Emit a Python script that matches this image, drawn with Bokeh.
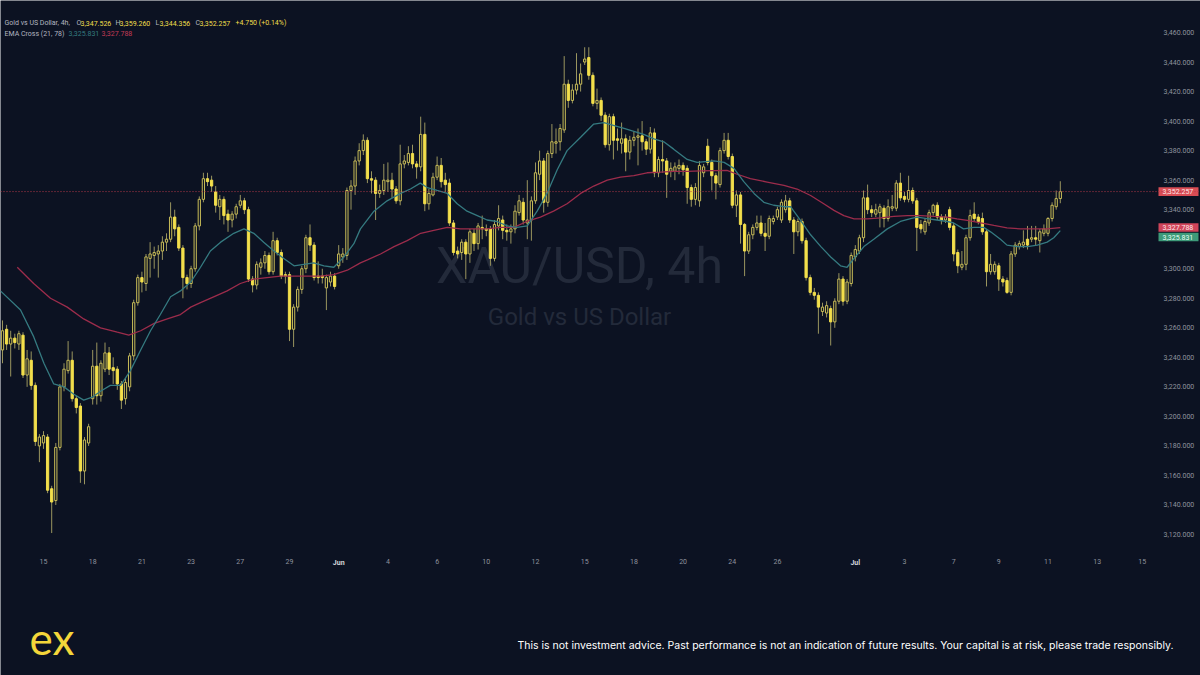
from bokeh.plotting import figure
from bokeh.models import Range1d, FixedTicker, NumeralTickFormatter, Span, Label, LinearAxis
from bokeh.embed import file_html
from bokeh.resources import INLINE

# ---------------- data (XAU/USD, 4h bars) ----------------
opens = [
    3245, 3259, 3249, 3253, 3249, 3255, 3228, 3238, 3221, 3180,
    3182, 3186, 3151, 3143, 3179, 3220, 3231, 3238, 3212, 3207,
    3163, 3182, 3212, 3234, 3214, 3232, 3243, 3233, 3232, 3222,
    3212, 3220, 3241, 3277, 3294, 3290, 3307, 3309, 3310, 3312,
    3318, 3320, 3335, 3328, 3314, 3294, 3290, 3300, 3329, 3347,
    3361, 3360, 3352, 3342, 3347, 3337, 3333, 3337, 3343, 3346,
    3340, 3293, 3289, 3301, 3304, 3309, 3298, 3319, 3311, 3296,
    3296, 3259, 3274, 3286, 3300, 3321, 3316, 3295, 3295, 3287,
    3291, 3295, 3302, 3308, 3309, 3353, 3356, 3373, 3380, 3387,
    3361, 3360, 3351, 3353, 3359, 3360, 3354, 3346, 3371, 3372,
    3378, 3371, 3369, 3391, 3344, 3350, 3362, 3370, 3360, 3358,
    3331, 3312, 3311, 3318, 3310, 3324, 3317, 3328, 3327, 3327,
    3307, 3329, 3333, 3326, 3325, 3327, 3338, 3345, 3331, 3333,
    3346, 3364, 3373, 3345, 3378, 3385, 3386, 3394, 3425, 3414,
    3421, 3425, 3440, 3443, 3431, 3412, 3414, 3404, 3384, 3403,
    3388, 3385, 3388, 3379, 3387, 3389, 3390, 3386, 3381, 3392,
    3365, 3374, 3373, 3366, 3366, 3368, 3370, 3368, 3355, 3347,
    3346, 3365, 3383, 3372, 3363, 3357, 3380, 3387, 3376, 3343,
    3350, 3330, 3312, 3323, 3328, 3331, 3324, 3322, 3332, 3335,
    3333, 3340, 3346, 3333, 3325, 3332, 3319, 3294, 3284, 3282,
    3271, 3270, 3273, 3264, 3278, 3293, 3278, 3290, 3308, 3312,
    3321, 3348, 3340, 3337, 3338, 3341, 3334, 3341, 3341, 3358,
    3349, 3347, 3353, 3346, 3330, 3325, 3331, 3338, 3343, 3335,
    3333, 3340, 3329, 3311, 3301, 3303, 3321, 3337, 3335, 3334,
    3325, 3298, 3298, 3302, 3293, 3292, 3284, 3310, 3315, 3316,
    3320, 3320, 3321, 3319, 3324, 3324, 3334, 3342, 3347.526,
]
highs = [
    3265, 3262, 3258, 3256, 3258, 3257, 3245, 3244, 3223, 3188,
    3190, 3188, 3153, 3182, 3222, 3236, 3251, 3244, 3214, 3209,
    3186, 3195, 3245, 3250, 3238, 3250, 3247, 3240, 3234, 3224,
    3226, 3243, 3279, 3296, 3298, 3310, 3318, 3315, 3316, 3322,
    3324, 3345, 3340, 3330, 3316, 3296, 3302, 3331, 3349, 3365,
    3365, 3363, 3356, 3350, 3349, 3340, 3339, 3344, 3350, 3348,
    3342, 3295, 3305, 3307, 3312, 3311, 3325, 3321, 3313, 3298,
    3298, 3276, 3288, 3302, 3323, 3330, 3318, 3305, 3300, 3296,
    3298, 3297, 3316, 3314, 3355, 3360, 3376, 3385, 3391, 3389,
    3366, 3362, 3357, 3371, 3372, 3365, 3356, 3384, 3377, 3383,
    3384, 3373, 3403, 3399, 3354, 3365, 3376, 3375, 3365, 3361,
    3333, 3315, 3320, 3320, 3327, 3327, 3331, 3336, 3330, 3329,
    3333, 3343, 3336, 3330, 3330, 3343, 3350, 3348, 3360, 3349,
    3372, 3380, 3375, 3380, 3398, 3395, 3398, 3444, 3428, 3425,
    3446, 3439, 3450, 3450, 3433, 3422, 3416, 3406, 3405, 3405,
    3395, 3399, 3391, 3390, 3393, 3395, 3400, 3388, 3396, 3395,
    3376, 3387, 3375, 3372, 3372, 3374, 3372, 3370, 3357, 3358,
    3373, 3371, 3388, 3374, 3365, 3382, 3392, 3392, 3378, 3353,
    3352, 3331, 3325, 3330, 3336, 3336, 3331, 3336, 3336, 3342,
    3347, 3350, 3348, 3335, 3334, 3334, 3321, 3296, 3287, 3284,
    3277, 3278, 3275, 3280, 3297, 3295, 3293, 3311, 3316, 3323,
    3353, 3357, 3343, 3344, 3344, 3343, 3347, 3350, 3360, 3365,
    3352, 3363, 3355, 3348, 3333, 3334, 3340, 3344, 3345, 3337,
    3337, 3342, 3331, 3313, 3312, 3323, 3340, 3345, 3337, 3338,
    3327, 3310, 3305, 3304, 3295, 3294, 3312, 3318, 3319, 3326,
    3329, 3329, 3329, 3327, 3330, 3335, 3345, 3353, 3359.260,
]
lows = [
    3236, 3245, 3227, 3246, 3245, 3226, 3220, 3218, 3180, 3169,
    3178, 3148, 3121, 3140, 3177, 3217, 3229, 3210, 3202, 3155,
    3154, 3180, 3208, 3208, 3210, 3230, 3228, 3222, 3218, 3205,
    3208, 3217, 3238, 3275, 3284, 3285, 3294, 3300, 3294, 3306,
    3312, 3318, 3322, 3312, 3280, 3286, 3287, 3298, 3326, 3345,
    3356, 3352, 3338, 3333, 3330, 3325, 3328, 3334, 3341, 3337,
    3291, 3284, 3286, 3296, 3300, 3296, 3296, 3309, 3293, 3290,
    3251, 3247, 3271, 3283, 3297, 3312, 3292, 3290, 3290, 3272,
    3288, 3286, 3300, 3304, 3306, 3340, 3350, 3370, 3377, 3358,
    3351, 3333, 3348, 3350, 3352, 3348, 3344, 3343, 3368, 3370,
    3368, 3361, 3366, 3339, 3340, 3349, 3360, 3355, 3352, 3329,
    3309, 3307, 3306, 3293, 3304, 3312, 3313, 3320, 3322, 3302,
    3305, 3326, 3320, 3319, 3317, 3324, 3336, 3330, 3320, 3319,
    3344, 3360, 3338, 3342, 3375, 3378, 3380, 3392, 3409, 3412,
    3418, 3420, 3438, 3428, 3410, 3408, 3400, 3382, 3380, 3374,
    3380, 3378, 3366, 3374, 3383, 3370, 3380, 3377, 3378, 3362,
    3362, 3365, 3348, 3362, 3360, 3364, 3363, 3344, 3342, 3343,
    3342, 3362, 3370, 3353, 3347, 3355, 3378, 3374, 3341, 3335,
    3317, 3295, 3310, 3320, 3326, 3322, 3312, 3320, 3330, 3333,
    3331, 3338, 3331, 3310, 3322, 3317, 3292, 3282, 3279, 3256,
    3268, 3267, 3248, 3260, 3276, 3275, 3276, 3288, 3305, 3310,
    3318, 3337, 3335, 3335, 3328, 3328, 3332, 3339, 3339, 3346,
    3345, 3345, 3344, 3312, 3324, 3323, 3329, 3336, 3333, 3330,
    3331, 3326, 3305, 3297, 3299, 3299, 3319, 3332, 3330, 3323,
    3288, 3296, 3296, 3285, 3288, 3283, 3282, 3308, 3313, 3314,
    3313, 3318, 3316, 3311, 3322, 3322, 3332, 3340, 3344.356,
]
closes = [
    3258, 3249, 3253, 3250, 3256, 3228, 3239, 3221, 3183, 3186,
    3187, 3150, 3142, 3179, 3220, 3232, 3238, 3212, 3206, 3163,
    3184, 3193, 3234, 3214, 3236, 3243, 3232, 3231, 3222, 3211,
    3223, 3241, 3277, 3294, 3291, 3308, 3310, 3311, 3312, 3318,
    3320, 3335, 3327, 3314, 3294, 3290, 3300, 3329, 3347, 3361,
    3359, 3356, 3343, 3347, 3336, 3333, 3337, 3342, 3346, 3340,
    3293, 3289, 3303, 3304, 3309, 3298, 3319, 3311, 3295, 3295,
    3259, 3274, 3286, 3300, 3321, 3316, 3294, 3294, 3294, 3294,
    3295, 3288, 3310, 3310, 3353, 3356, 3373, 3380, 3387, 3361,
    3360, 3351, 3353, 3360, 3360, 3354, 3346, 3371, 3373, 3378,
    3371, 3369, 3391, 3344, 3351, 3362, 3370, 3359, 3357, 3331,
    3311, 3310, 3318, 3310, 3325, 3317, 3329, 3327, 3326, 3307,
    3330, 3334, 3326, 3325, 3327, 3339, 3346, 3333, 3333, 3346,
    3365, 3373, 3345, 3378, 3386, 3386, 3395, 3425, 3414, 3421,
    3425, 3432, 3442, 3431, 3412, 3414, 3404, 3384, 3403, 3387,
    3387, 3388, 3379, 3387, 3389, 3390, 3386, 3381, 3392, 3365,
    3374, 3373, 3364, 3368, 3369, 3370, 3367, 3355, 3347, 3355,
    3370, 3369, 3372, 3363, 3358, 3380, 3387, 3376, 3343, 3350,
    3330, 3312, 3323, 3328, 3331, 3324, 3322, 3334, 3334, 3340,
    3345, 3346, 3333, 3325, 3332, 3319, 3294, 3284, 3282, 3274,
    3274, 3275, 3264, 3278, 3293, 3278, 3291, 3309, 3313, 3321,
    3348, 3340, 3338, 3340, 3342, 3334, 3342, 3342, 3358, 3348,
    3347, 3353, 3346, 3328, 3327, 3332, 3338, 3343, 3335, 3333,
    3335, 3328, 3310, 3302, 3303, 3321, 3336, 3334, 3332, 3325,
    3298, 3303, 3303, 3293, 3291, 3284, 3310, 3316, 3317, 3318,
    3316, 3321, 3320, 3325, 3327, 3334, 3343, 3347.5, 3352.257,
]

# EMA Cross (21, 78): bar position -> value
ema21_x = [-0.5, 4.4, 7.6, 10.1, 12.5, 15, 17.4, 19.8, 21.9, 23.9, 26.3, 28.8, 31.2, 33.7,
           36.1, 38.5, 41, 43.4, 45.9, 48.3, 50.7, 53.2, 56.4, 58.9, 61.3, 63.7, 66.2, 68.6,
           71.1, 73.5, 75.9, 78.4, 80.8, 83.3, 85.7, 87.3, 90.6, 93.8, 97.1, 99.5, 101.9,
           103.6, 106, 108.5, 110.9, 113.3, 115.8, 118.2, 120.6, 123.1, 125.5, 128, 130.4,
           132.8, 135.3, 137.7, 141, 144.2, 146.7, 149.2, 151.6, 154, 156.4, 158.9, 161.3,
           163.7, 167, 169.4, 173.5, 176, 178.4, 180.8, 183.3, 185.7, 188.1, 190.6, 192.2,
           194.6, 197.1, 199.6, 202, 204.4, 206, 207.7, 210.1, 212.5, 215.8, 219, 221.5,
           223.1, 225.5, 227.9, 230.4, 232, 234.4, 236.9, 239.3, 241, 243.4, 245, 247.5,
           250, 252.4, 254.8, 256.4, 258]
ema21_v = [3285, 3272, 3254, 3236, 3222, 3220, 3215, 3211, 3213, 3217, 3221, 3221, 3231, 3245,
           3258, 3269, 3281, 3285, 3291, 3301, 3312, 3318, 3324, 3327, 3324, 3318, 3312, 3307,
           3302, 3303, 3304, 3302, 3301, 3308, 3317, 3327, 3339, 3346, 3351, 3354, 3358,
           3355, 3353, 3351, 3344, 3339, 3336, 3333, 3332, 3329, 3328, 3329, 3339,
           3351, 3367, 3380, 3389, 3398, 3399, 3397, 3395, 3393, 3391, 3388, 3386,
           3381, 3374, 3372, 3373, 3372, 3368, 3359, 3351, 3345, 3343, 3342, 3342,
           3333, 3323, 3315, 3308, 3302, 3301, 3307, 3315, 3320, 3327, 3332, 3334,
           3335, 3334, 3333, 3332, 3331, 3327, 3328, 3328, 3325, 3320, 3316, 3315,
           3315, 3316, 3318, 3321, 3325.831]
ema78_x = [3.6, 7.6, 11.7, 15.8, 19.8, 23.9, 28, 30.8, 33.7, 37, 40.2, 43.4, 45.9, 48.3, 51.5,
           54.8, 58, 61.3, 64.5, 67.8, 71.1, 74.3, 77.6, 80.8, 84.1, 87.3, 89, 92.2, 95.5,
           98.7, 102, 105.2, 108.5, 111.7, 114.9, 118.2, 121.4, 124.7, 127.9, 131.2, 134.4,
           137.7, 141, 144.2, 147.5, 150.7, 154, 157.2, 160.5, 163.7, 167, 170.3, 176.7,
           179.2, 182.4, 186.5, 190.6, 193.8, 197.1, 200.3, 202.8, 205.2, 207.7, 210.9,
           214.2, 217.4, 220.7, 223.9, 227.2, 230.4, 232.8, 235.3, 238.6, 241.8, 245,
           248.3, 251.5, 254.8, 258]
ema78_v = [3301, 3290, 3280, 3274, 3266, 3260, 3257, 3255, 3258, 3263, 3266, 3269, 3274, 3277,
           3281, 3285, 3290, 3293, 3294, 3295, 3295, 3295, 3295, 3296, 3299, 3304, 3306, 3310,
           3315, 3319, 3324, 3326, 3328, 3327, 3327, 3327, 3328, 3328, 3332, 3335, 3339,
           3344, 3351, 3356, 3360, 3362, 3363, 3365, 3365.4, 3366, 3366, 3366.3, 3366.6,
           3364, 3361, 3358.7, 3356.4, 3354, 3349.6, 3344, 3339.5, 3336, 3333.8, 3333.8,
           3334.5, 3335.4, 3336, 3336, 3335.4, 3335, 3333.8, 3332.7, 3331, 3329.3, 3327.7,
           3327, 3327, 3327, 3327.788]

# time axis labels (bar index -> label)
tick_idx = [10, 22, 34, 46, 58, 70, 82, 94, 106, 118, 130, 142, 154, 166, 178, 189,
            208, 220, 232, 243, 255, 267, 278]
tick_lab = ["15", "18", "21", "23", "27", "29", "Jun", "4", "6", "10", "12", "15", "18",
            "20", "24", "26", "Jul", "3", "7", "9", "11", "13", "15"]
price_ticks = [3120, 3140, 3160, 3180, 3200, 3220, 3240, 3260, 3280, 3300,
               3340, 3360, 3380, 3400, 3420, 3440, 3460]

last_price = 3352.257
ema21_last = 3325.831
ema78_last = 3327.788

# ---------------- styling ----------------
BG = "#0c1222"
YEL = "#f3df4c"
HOLLOW = "#c9bd58"
WICK = "#9a955f"
TEAL = "#357a80"
CRIM = "#9c2c4b"
GRAY = "#8f939e"
FONT = "Roboto"


def sx(x):  # picture pixel -> bar index
    return (x - 2.0) / 4.1


def sy(y):  # picture pixel -> price
    return 3460.0 - (y - 32.0) / 1.4765


n = min(len(opens), len(highs), len(lows), len(closes))
idx = list(range(n))

p = figure(width=1200, height=675, output_backend="svg", toolbar_location=None,
           x_range=Range1d(sx(0), sx(1200)), y_range=Range1d(sy(675), sy(0)),
           x_axis_location="below", y_axis_location="right",
           background_fill_color=BG, border_fill_color=BG, outline_line_color=None,
           min_border_left=0, min_border_top=0, min_border_right=0, min_border_bottom=0)
p.grid.visible = False

# watermark
p.add_layout(Label(x=sx(579), y=sy(265), text="XAU/USD, 4h", text_align="center",
                   text_baseline="middle", text_font_size="50px", text_color="#232a3a",
                   text_font=FONT, level="underlay"))
p.add_layout(Label(x=sx(579), y=sy(316), text="Gold vs US Dollar", text_align="center",
                   text_baseline="middle", text_font_size="24px", text_color="#232a3a",
                   text_font=FONT, level="underlay"))

# current price line
p.add_layout(Span(location=last_price, dimension="width", line_color="#b23a48",
                  line_dash="1 2", line_width=1))

# candles
p.segment(x0=idx, y0=lows[:n], x1=idx, y1=highs[:n], line_color=WICK, line_width=1)
up = [i for i in idx if closes[i] >= opens[i]]
dn = [i for i in idx if closes[i] < opens[i]]
p.vbar(x=up, width=0.55, bottom=[opens[i] for i in up], top=[closes[i] for i in up],
       fill_color=BG, line_color=HOLLOW, line_width=1)
p.vbar(x=dn, width=0.55, top=[opens[i] for i in dn], bottom=[closes[i] for i in dn],
       fill_color=YEL, line_color=YEL, line_width=1)

# EMA lines
p.line(ema78_x, ema78_v, line_color=CRIM, line_width=1.3)
p.line(ema21_x, ema21_v, line_color=TEAL, line_width=1.3)

# axes (labels drawn over the chart area, as on the reference)
day_t = [t for t, l in zip(tick_idx, tick_lab) if l.isdigit()]
day_l = [l for t, l in zip(tick_idx, tick_lab) if l.isdigit()]
mon_t = [t for t, l in zip(tick_idx, tick_lab) if not l.isdigit()]
mon_l = [l for t, l in zip(tick_idx, tick_lab) if not l.isdigit()]

xa = p.xaxis[0]
xa.ticker = FixedTicker(ticks=day_t)
xa.major_label_overrides = {t: l for t, l in zip(day_t, day_l)}
xm = LinearAxis(ticker=FixedTicker(ticks=mon_t),
                major_label_overrides={t: l for t, l in zip(mon_t, mon_l)})
p.add_layout(xm, "below")
ya = p.yaxis[0]
ya.ticker = FixedTicker(ticks=price_ticks)
ya.formatter = NumeralTickFormatter(format="0,0.000")
for ax in (xa, xm, ya):
    ax.axis_line_color = None
    ax.major_tick_line_color = None
    ax.minor_tick_line_color = None
    ax.major_tick_out = 0
    ax.major_tick_in = 0
    ax.major_label_text_color = GRAY
    ax.major_label_text_font_size = "7px"
    ax.major_label_text_font = FONT
xm.major_label_text_color = "#d4d6dc"
xm.major_label_text_font_style = "bold"
xa.major_label_standoff = -117
xm.major_label_standoff = -117
ya.major_label_standoff = -37

# price tags on the scale: box (quad) + text
tag_vals = [last_price, ema78_last, ema21_last]
tag_pos = [last_price, sy(227), sy(236.5)]
tag_fill = ["#d94c54", "#d0445a", "#3d9a79"]
tag_text = ["#ffe6e6", "#ffe6ea", "#e8fff4"]
half = 4.3 / 1.4765
p.quad(left=sx(1158), right=sx(1198), top=[v + half for v in tag_pos],
       bottom=[v - half for v in tag_pos], fill_color=tag_fill, line_color=None)
for val, ypos, tcol in zip(tag_vals, tag_pos, tag_text):
    p.add_layout(Label(x=sx(1162), y=ypos, text=f"{val:,.3f}", text_align="left",
                       text_baseline="middle", text_font_size="7px", text_font=FONT,
                       text_color=tcol))

# legend (top-left)
leg1 = [("Gold vs US Dollar, 4h,", 4, "#b3b6c0"),
        ("O", 76, "#b3b6c0"), (f"{opens[-1]:,.3f}", 80, YEL),
        ("H", 115, "#b3b6c0"), (f"{highs[-1]:,.3f}", 119, YEL),
        ("L", 155, "#b3b6c0"), (f"{lows[-1]:,.3f}", 159, YEL),
        ("C", 195, "#b3b6c0"), (f"{closes[-1]:,.3f}", 199, YEL),
        ("+4.750 (+0.14%)", 235, YEL)]
for txt, xp, col in leg1:
    p.add_layout(Label(x=sx(xp), y=sy(22.5), text=txt, text_baseline="middle",
                       text_font_size="7px", text_font=FONT, text_color=col))
leg2 = [("EMA Cross (21, 78)", 4, "#b3b6c0"), (f"{ema21_last:,.3f}", 68, TEAL),
        (f"{ema78_last:,.3f}", 101, "#c23a55")]
for txt, xp, col in leg2:
    p.add_layout(Label(x=sx(xp), y=sy(33), text=txt, text_baseline="middle",
                       text_font_size="7px", text_font=FONT, text_color=col))

# footer
p.add_layout(Label(x=sx(29), y=sy(637), text="ex", text_baseline="middle",
                   text_font_size="44px", text_font="Lato", text_color="#f4d63a"))
p.add_layout(Label(x=sx(1173), y=sy(645), text_align="right", text_baseline="middle",
                   text="This is not investment advice. Past performance is not an indication of future results. Your capital is at risk, please trade responsibly.",
                   text_font_size="10.5px", text_font="Inter", text_color="#ffffff"))

open("out.html", "w").write(file_html(p, INLINE))
